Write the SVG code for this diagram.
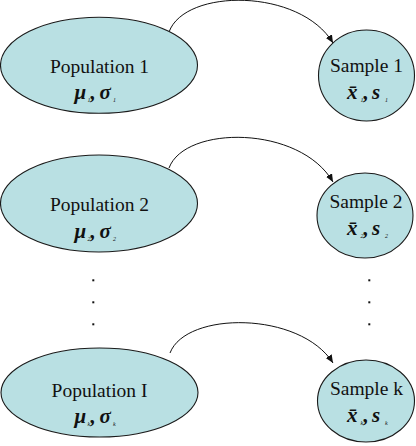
<svg xmlns="http://www.w3.org/2000/svg" width="416" height="446" viewBox="0 0 416 446">
<style>
.node{fill:#b9e0e3;stroke:#1a1a1a;stroke-width:1.1}
.lbl{font-family:"Liberation Serif","Times New Roman",serif;font-size:19.5px;fill:#111;text-anchor:middle}
.m{font-family:"Liberation Serif","Times New Roman",serif;font-size:21px;font-style:italic;font-weight:bold;fill:#111}
.sub{font-size:6px;font-weight:normal;font-style:italic}
.edge{fill:none;stroke:#111;stroke-width:1}
.dot{fill:#111}
</style>
<defs>
<marker id="ah" markerUnits="userSpaceOnUse" markerWidth="9" markerHeight="8" refX="8" refY="3.5" orient="auto">
<path d="M0,0 L8,3.5 L0,7 z" fill="#111"/>
</marker>
</defs>
<g id="connectors">
<path class="edge" d="M169,32 C185,-12 300,-12 333,43" marker-end="url(#ah)"/>
<path class="edge" d="M169,168 C185,125 300,125 333,182" marker-end="url(#ah)"/>
<path class="edge" d="M170,353 C186,311 300,311 333,363" marker-end="url(#ah)"/>
</g>
<g id="pop1">
<ellipse class="node" cx="99" cy="65.3" rx="98.5" ry="48"/>
<text class="lbl" x="99.5" y="73">Population 1</text>
<text class="m" y="99"><tspan x="74.5">μ</tspan><tspan class="sub" x="87.5" y="102">1</tspan><tspan x="90.5" y="99">,</tspan><tspan x="99.5">σ</tspan><tspan class="sub" x="113" y="102">1</tspan></text>
</g>
<g id="sample1">
<ellipse class="node" cx="366.5" cy="75.5" rx="48" ry="45.5"/>
<text class="lbl" x="366.5" y="72">Sample 1</text>
<text class="m" y="99"><tspan x="347">x̄</tspan><tspan class="sub" x="360.5" y="102">1</tspan><tspan x="363.5" y="99">,</tspan><tspan x="372">s</tspan><tspan class="sub" x="385" y="102">1</tspan></text>
</g>
<g id="pop2">
<ellipse class="node" cx="99" cy="203.5" rx="98.5" ry="48.5"/>
<text class="lbl" x="99.5" y="211">Population 2</text>
<text class="m" y="238"><tspan x="74.5">μ</tspan><tspan class="sub" x="87.5" y="241">2</tspan><tspan x="90.5" y="238">,</tspan><tspan x="99.5">σ</tspan><tspan class="sub" x="113" y="241">2</tspan></text>
</g>
<g id="sample2">
<ellipse class="node" cx="365" cy="215.5" rx="48" ry="42.5"/>
<text class="lbl" x="366" y="208">Sample 2</text>
<text class="m" y="235"><tspan x="347">x̄</tspan><tspan class="sub" x="360.5" y="238">2</tspan><tspan x="363.5" y="235">,</tspan><tspan x="372">s</tspan><tspan class="sub" x="385" y="238">2</tspan></text>
</g>
<g id="pop3">
<ellipse class="node" cx="99.5" cy="392.5" rx="98.5" ry="44.5"/>
<text class="lbl" x="99.5" y="397">Population I</text>
<text class="m" y="423"><tspan x="74.5">μ</tspan><tspan class="sub" x="87.5" y="426">k</tspan><tspan x="90.5" y="423">,</tspan><tspan x="99.5">σ</tspan><tspan class="sub" x="113" y="426">k</tspan></text>
</g>
<g id="sample3">
<ellipse class="node" cx="366" cy="401" rx="48.5" ry="41"/>
<text class="lbl" x="366.5" y="395">Sample k</text>
<text class="m" y="422"><tspan x="347">x̄</tspan><tspan class="sub" x="360.5" y="425">k</tspan><tspan x="363.5" y="422">,</tspan><tspan x="372">s</tspan><tspan class="sub" x="385" y="425">k</tspan></text>
</g>
<g id="dots">
<rect class="dot" x="92.3" y="279.3" width="2" height="2"/>
<rect class="dot" x="92.3" y="301.3" width="2" height="2"/>
<rect class="dot" x="92.3" y="323.3" width="2" height="2"/>
<rect class="dot" x="368.3" y="279.3" width="2" height="2"/>
<rect class="dot" x="368.3" y="301.3" width="2" height="2"/>
<rect class="dot" x="368.3" y="323.3" width="2" height="2"/>
</g>
</svg>
